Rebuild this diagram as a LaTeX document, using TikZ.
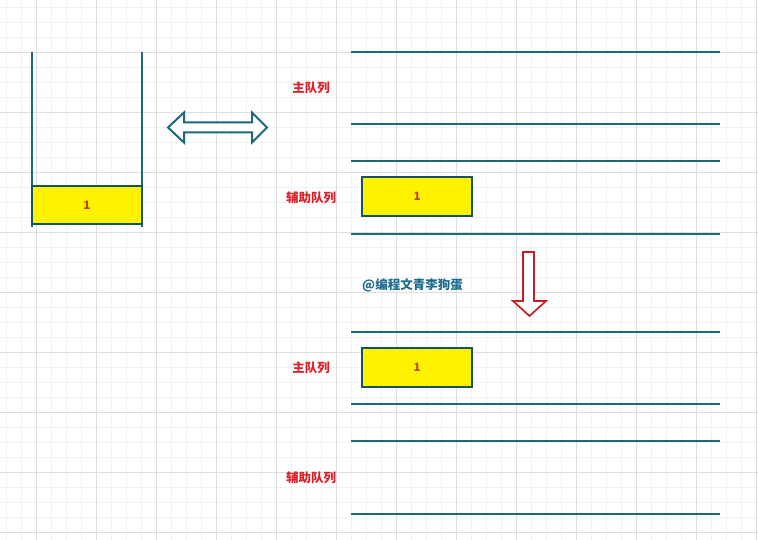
\documentclass[tikz,border=0pt]{standalone}
\usepackage{fontspec}
\newfontfamily\cjk{Noto Sans CJK SC}
\usetikzlibrary{positioning}

\definecolor{qteal}{HTML}{1B6878}
\definecolor{qred}{HTML}{D8232A}
\definecolor{qnum}{HTML}{C0441E}
\definecolor{qmark}{HTML}{1E6A8C}
\definecolor{gridminor}{HTML}{F1F1F1}
\definecolor{gridmajor}{HTML}{DEDEDE}

\begin{document}
\begin{tikzpicture}[x=1pt,y=-1pt,line join=miter,
  qline/.style={draw=qteal,line width=2.2pt},
  cell/.style={draw=qteal!80!black,line width=2.2pt,fill=yellow,inner sep=0pt,
    minimum width=110pt,minimum height=39pt,text=qnum,
    font=\cjk\bfseries\fontsize{11.5}{12}\selectfont},
  qlabel/.style={text=qred,inner sep=0pt,font=\cjk\bfseries\fontsize{12.5}{14}\selectfont}]
  \useasboundingbox[fill=white] (0,0) rectangle (758,540);
  % background grid
  \foreach \gx in {6,21,...,756} \draw[gridminor,line width=0.6pt] (\gx,0) -- (\gx,540);
  \foreach \gy in {7,22,...,537} \draw[gridminor,line width=0.6pt] (0,\gy) -- (758,\gy);
  \foreach \gx in {36,96,...,756} \draw[gridmajor,line width=0.7pt] (\gx,0) -- (\gx,540);
  \foreach \gy in {52,112,...,532} \draw[gridmajor,line width=0.7pt] (0,\gy) -- (758,\gy);
  % stack
  \draw[qline] (32,52) -- (32,227);
  \draw[qline] (142,52) -- (142,227);
  \node[cell,minimum height=38pt] (stk) at (87,205) {1};
  % two-way arrow
  \draw[draw=qteal,line width=2pt,fill=white] (168,127.5) -- (184,112.5) -- (184,122.5)
    -- (252,122.5) -- (252,112.5) -- (267,127.5) -- (252,142.5) -- (252,132.5)
    -- (184,132.5) -- (184,142.5) -- cycle;
  % queues, before
  \foreach \ly in {52,124,161,234} \draw[qline] (351,\ly) -- (720,\ly);
  \node[qlabel] (mainA) at (311,88) {主队列};
  \node[qlabel] (auxA) at (311,198) {辅助队列};
  \node[cell] (cellA) at (417,196.5) {1};
  \node[text=qmark,inner sep=0pt,font=\cjk\bfseries\fontsize{12.5}{14}\selectfont] (mark) at (412.5,285) {@编程文青李狗蛋};
  % down arrow
  \draw[draw=qred!90!black,line width=1.7pt,fill=white] (523,252) -- (534,252) -- (534,301)
    -- (546,301) -- (529.5,316) -- (513,301) -- (523,301) -- cycle;
  % queues, after
  \foreach \ly in {332,404,441,514} \draw[qline] (351,\ly) -- (720,\ly);
  \node[qlabel] (mainB) at (311,368) {主队列};
  \node[qlabel] (auxB) at (311,478) {辅助队列};
  \node[cell] (cellB) at (417,367.5) {1};
\end{tikzpicture}
\end{document}
